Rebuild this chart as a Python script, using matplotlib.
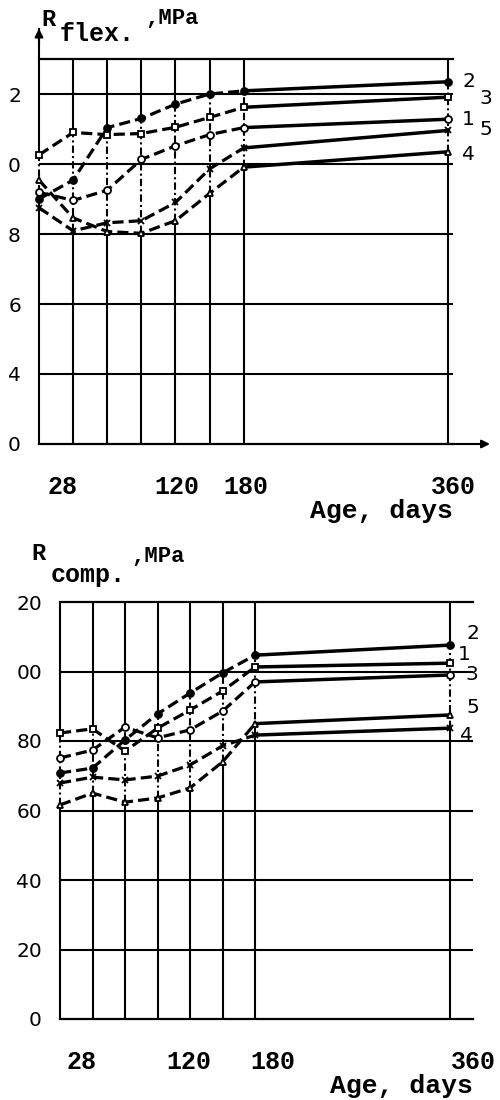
import matplotlib
matplotlib.use("Agg")
import matplotlib.pyplot as plt

# Age of the specimens, days
ages = [0, 30, 60, 90, 120, 150, 180, 360]
series_names = ["1", "2", "3", "4", "5"]

# Flexural strength, MPa
flex_1 = [9.19, 8.96, 9.25, 10.13, 10.52, 10.84, 11.04, 11.28]
flex_2 = [9.00, 9.54, 11.04, 11.30, 11.71, 12.00, 12.09, 12.35]
flex_3 = [10.26, 10.90, 10.84, 10.87, 11.05, 11.33, 11.62, 11.91]
flex_4 = [9.54, 8.46, 8.07, 8.02, 8.38, 9.16, 9.91, 10.35]
flex_5 = [8.75, 8.09, 8.32, 8.38, 8.90, 9.86, 10.46, 10.96]

# Compressive strength, MPa
comp_1 = [82.3, 83.5, 77.1, 83.7, 88.9, 94.4, 101.3, 102.4]
comp_2 = [70.8, 72.2, 80.3, 87.8, 93.8, 99.6, 104.7, 107.6]
comp_3 = [75.1, 77.4, 84.0, 80.9, 83.2, 88.6, 97.0, 99.0]
comp_4 = [67.9, 69.6, 68.8, 69.9, 73.1, 78.6, 81.7, 83.7]
comp_5 = [61.6, 65.0, 62.4, 63.6, 66.5, 74.0, 85.0, 87.5]

flex_yticks = [2, 4, 6, 8, 10, 12]
flex_yticklabels = ["0", "4", "6", "8", "0", "2"]
comp_yticks = [0, 20, 40, 60, 80, 100, 120]
comp_yticklabels = ["0", "20", "40", "60", "80", "00", "20"]
age_ticklabels = ["28", "120", "180", "360"]

# layout helpers ----------------------------------------------------------
W, H = 500, 1100
def fx(px):
    return px / W
def fy(py):
    return 1 - py / H

SANS = "DejaVu Sans"
MONO = "Liberation Mono"

flex_markers = [dict(marker="o", mfc="white"), dict(marker="o", mfc="black"),
                dict(marker="s", mfc="white"), dict(marker="^", mfc="white"),
                dict(marker="x", mfc="white")]
comp_markers = [dict(marker="s", mfc="white"), dict(marker="o", mfc="black"),
                dict(marker="o", mfc="white"), dict(marker="x", mfc="white"),
                dict(marker="^", mfc="white")]


def draw_panel(ax, series, markers, ylim, yticks, yticklabels, label_pos,
               end_offsets, arrows):
    y0, y1 = ylim
    ax.set_xlim(0, 360)
    ax.set_ylim(y0, y1)
    for s in ("left", "right"):
        ax.spines[s].set_visible(False)
    for s in ("top", "bottom"):
        ax.spines[s].set_linewidth(1.6)
        ax.spines[s].set_color("black")

    # horizontal grid
    for yt in yticks:
        if y0 < yt < y1:
            ax.axhline(yt, color="black", lw=1.5, zorder=1)

    # vertical grid: solid outside the band of measured values,
    # dash-dotted across it
    top = y1 if not arrows else y1 + 0.9
    for i, a in enumerate(ages):
        vals = [s[i] for s in series]
        lo, hi = min(vals), max(vals)
        kw = dict(color="black", lw=1.5, zorder=1, clip_on=False)
        ax.vlines(a, y0, lo, **kw)
        ax.vlines(a, lo, hi, linestyles=(0, (3.5, 1.5, 1, 1.5)), **kw)
        ax.vlines(a, hi, top if a == 0 else y1, **kw)

    # curves: dashed up to 180 days, solid afterwards
    for s, m in zip(series, markers):
        ax.plot(ages[:7], s[:7], color="black", lw=2.3, dashes=(3.5, 1.6),
                zorder=3, clip_on=False)
        ax.plot(ages[6:], s[6:], color="black", lw=2.5, zorder=3, clip_on=False)
        ax.plot(ages, s, ls="none", marker=m["marker"], mfc=m["mfc"],
                mec="black", mew=1.3, ms=5, zorder=4, clip_on=False)

    # numbers of the curves at their right ends
    for s, name, (dx, dy) in zip(series, series_names, end_offsets):
        ax.annotate(name, xy=(360, s[-1]), xytext=(dx, dy),
                    textcoords="offset pixels", ha="center", va="center",
                    fontsize=14.5, family=SANS, annotation_clip=False)

    ax.set_yticks(yticks)
    ax.set_yticklabels(yticklabels, fontsize=14.5, family=SANS)
    ax.set_xticks(label_pos)
    ax.set_xticklabels(age_ticklabels, fontsize=18, family=MONO,
                       fontweight="bold")
    ax.tick_params(axis="both", length=0)
    ax.tick_params(axis="y", pad=13)
    ax.tick_params(axis="x", pad=22)

    if arrows:
        ax.annotate("", xy=(0, y1 + 0.95), xytext=(0, y1 + 0.3),
                    arrowprops=dict(arrowstyle="-|>", color="black", lw=1.5,
                                    mutation_scale=12), annotation_clip=False)
        ax.annotate("", xy=(399, y0), xytext=(355, y0),
                    arrowprops=dict(arrowstyle="-|>", color="black", lw=1.5,
                                    mutation_scale=12), annotation_clip=False)


fig = plt.figure(figsize=(W / 100, H / 100), dpi=100)

# flexural strength panel
ax1 = fig.add_axes([fx(39), fy(444), fx(453) - fx(39), (444 - 59) / H])
draw_panel(ax1, [flex_1, flex_2, flex_3, flex_4, flex_5], flex_markers,
           (2, 13), flex_yticks, flex_yticklabels, [21, 121, 182, 364],
           [(20, 0), (20, 0), (37, -1), (20, -3), (37, 1)], arrows=True)

# compressive strength panel
ax2 = fig.add_axes([fx(60), fy(1019), fx(473) - fx(60), (1019 - 602) / H])
draw_panel(ax2, [comp_1, comp_2, comp_3, comp_4, comp_5], comp_markers,
           (0, 120), comp_yticks, comp_yticklabels, [20, 119, 196, 381],
           [(14, 9), (23, 12), (22, 0), (16, -7), (23, 7)], arrows=False)

# axis captions
title_kw = dict(family=MONO, fontweight="bold", va="center", ha="left")
fig.text(fx(41), fy(19), "R", fontsize=17, **title_kw)
fig.text(fx(60), fy(34), "flex.", fontsize=18, **title_kw)
fig.text(fx(145), fy(18), ",MPa", fontsize=16, **title_kw)
fig.text(fx(310), fy(511), "Age, days", fontsize=19, **title_kw)

fig.text(fx(31), fy(553), "R", fontsize=17, **title_kw)
fig.text(fx(51), fy(575), "comp.", fontsize=18, **title_kw)
fig.text(fx(131), fy(556), ",MPa", fontsize=16, **title_kw)
fig.text(fx(330), fy(1086), "Age, days", fontsize=19, **title_kw)

fig.savefig("out.png", dpi=100)
